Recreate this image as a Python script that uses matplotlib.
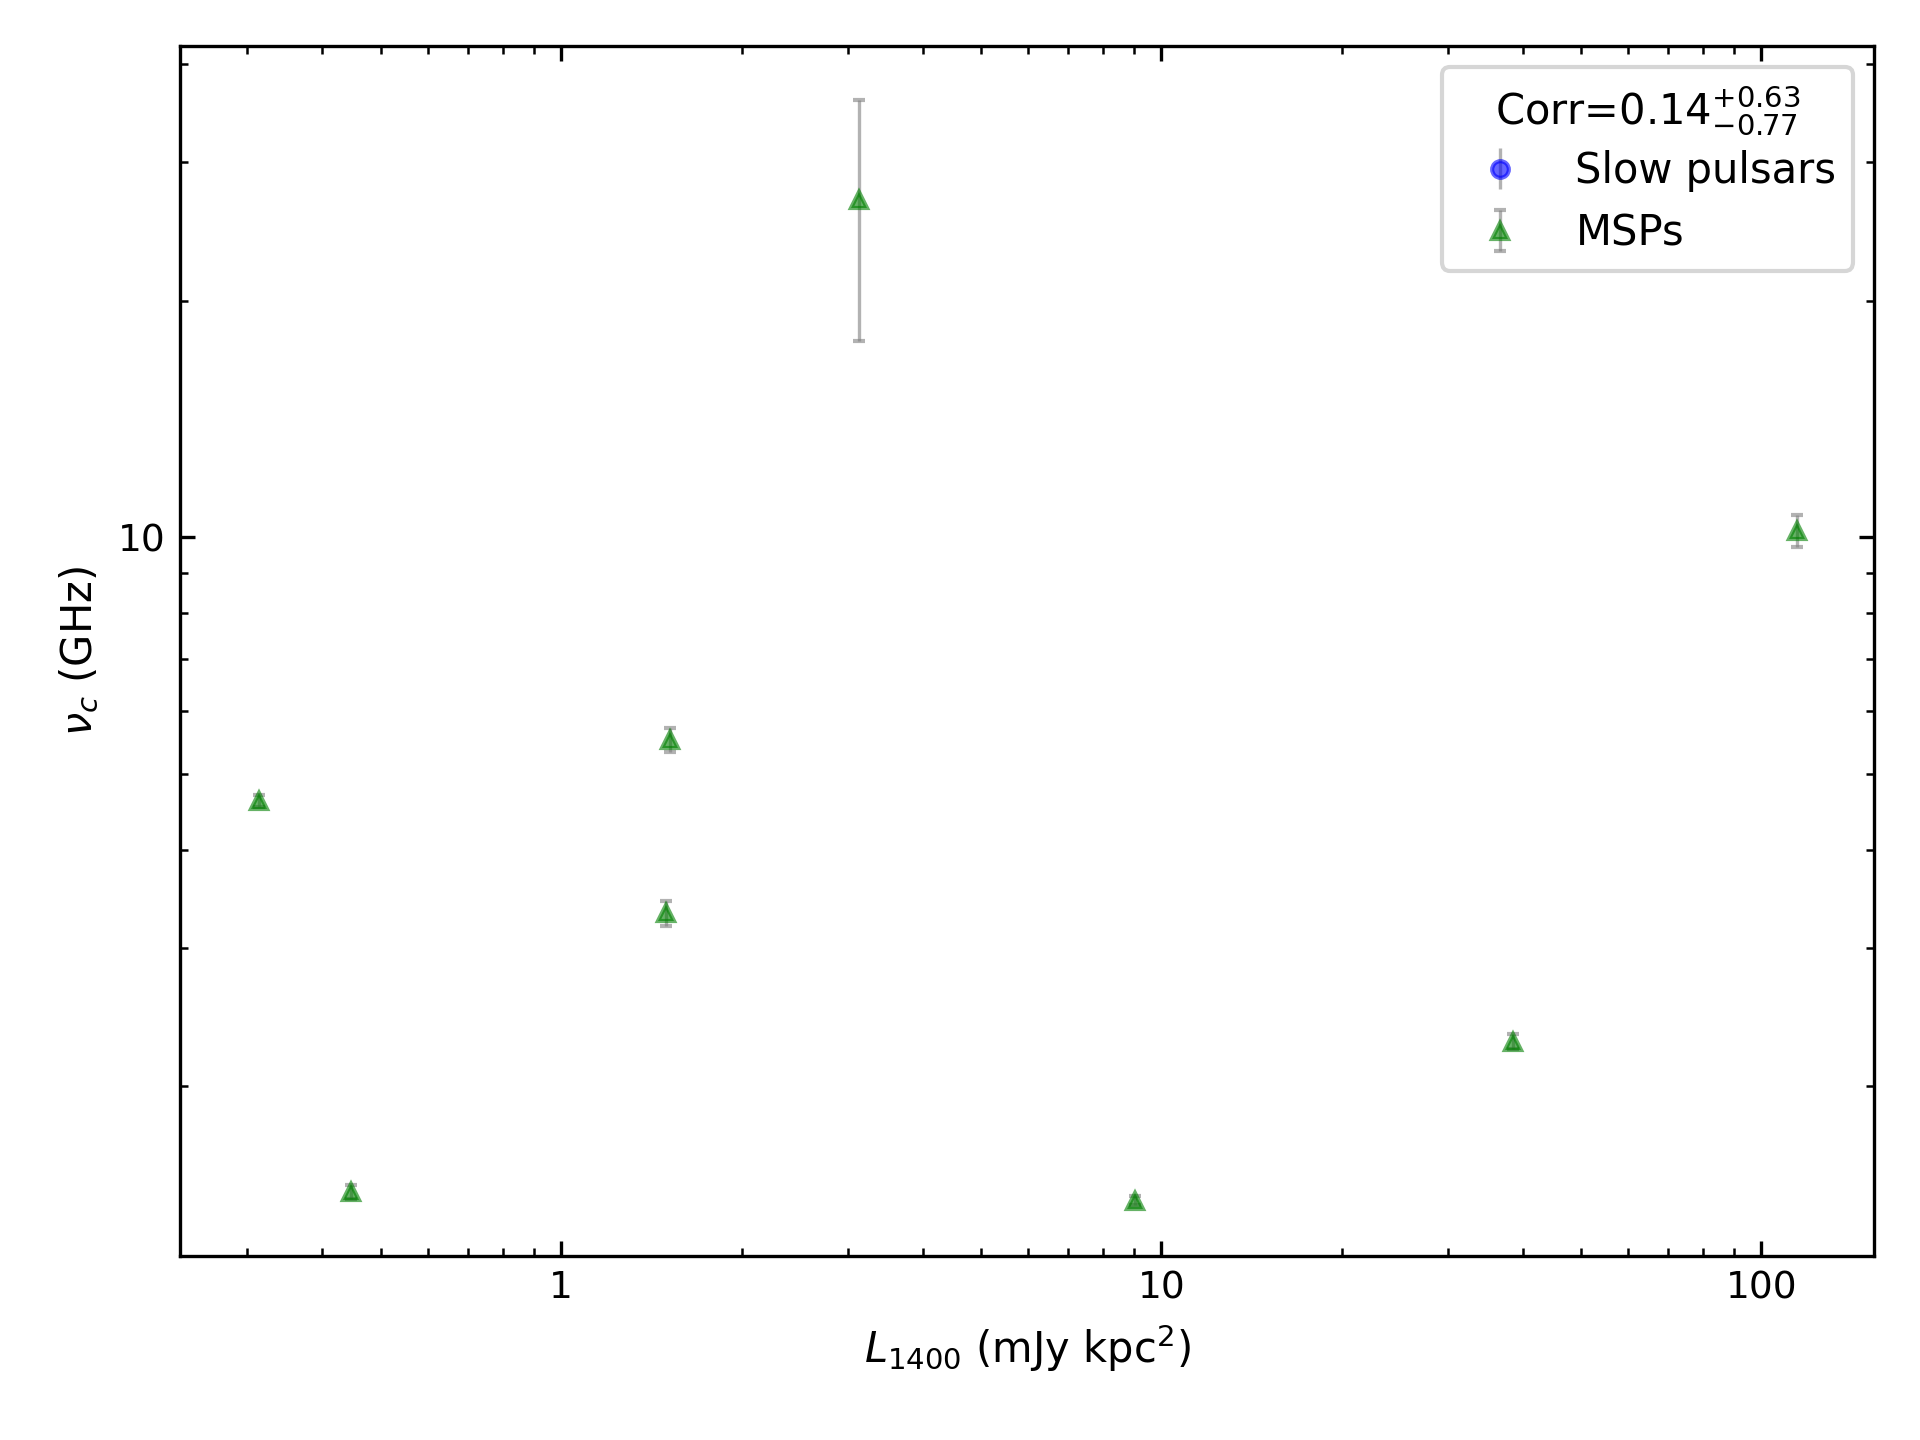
import matplotlib
matplotlib.use("Agg")
import matplotlib.pyplot as plt

# MSP values (L1400 in mJy kpc^2, nu_c in GHz)
msp_lum = [0.313, 0.447, 1.494, 1.52, 3.13, 9.04, 38.5, 114.8]
msp_nuc = [4.62, 1.468, 3.32, 5.52, 26.9, 1.43, 2.28, 10.19]
msp_err = [0.08, 0.03, 0.12, 0.19, 9.1, 0.02, 0.05, 0.48]

# no slow pulsars in this panel, only the legend entry
slow_lum = []
slow_nuc = []
slow_err = []

corr_label = r"Corr=$0.14^{+0.63}_{-0.77}$"

plt.rcParams["font.size"] = 10

fig, ax = plt.subplots(figsize=(6.4, 4.8), dpi=300)

ax.errorbar(slow_lum, slow_nuc, yerr=slow_err, fmt="o", color="blue",
            ecolor="gray", ms=4, alpha=0.6, elinewidth=0.8, capsize=0,
            label="Slow pulsars")
ax.errorbar(msp_lum, msp_nuc, yerr=msp_err, fmt="^", color="green",
            ecolor="gray", ms=4, alpha=0.6, elinewidth=0.8, capsize=1.5,
            label="MSPs")

ax.set_xscale("log")
ax.set_yscale("log")
ax.set_xlim(0.232, 154)
ax.set_ylim(1.217, 42.2)
ax.set_xticks([1, 10, 100])
ax.set_xticklabels(["1", "10", "100"])
ax.set_yticks([10])
ax.set_yticklabels(["10"])

ax.tick_params(which="both", direction="in", top=True, right=True)
ax.tick_params(which="major", labelsize=9)

ax.set_xlabel(r"$L_{1400}$ (mJy kpc$^2$)")
ax.set_ylabel(r"$\nu_c$ (GHz)")

leg = ax.legend(loc="upper right", title=corr_label, fontsize=10,
                title_fontsize=10, labelspacing=0.48)
# title sits a little closer to the entries in the original
leg._legend_box.sep = 3

fig.subplots_adjust(left=0.094, right=0.976, top=0.968, bottom=0.128)
fig.savefig("out.png", dpi=300)
